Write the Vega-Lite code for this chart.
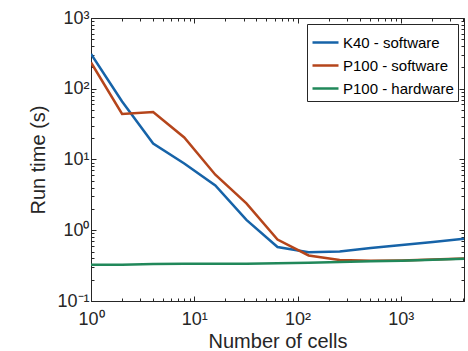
{
  "$schema": "https://vega.github.io/schema/vega-lite/v6.json",
  "width": 373,
  "height": 283,
  "autosize": {"type": "none"},
  "padding": {"left": 91, "top": 18, "right": 4, "bottom": 50},
  "background": "white",
  "config": {
    "font": "Liberation Sans",
    "view": {"stroke": "#262626", "strokeWidth": 1},
    "axis": {"grid": false, "domainColor": "#262626", "tickColor": "#262626", "labelColor": "#262626", "titleColor": "#262626", "labelFont": "Liberation Sans", "titleFont": "Liberation Sans", "titleFontWeight": "normal", "labelOverlap": false, "labelFlush": false}
  },
  "data": {
    "values": [
      {"series": "K40 - software", "cells": 1, "time": 310},
      {"series": "K40 - software", "cells": 2, "time": 66},
      {"series": "K40 - software", "cells": 4, "time": 16.8},
      {"series": "K40 - software", "cells": 8, "time": 8.8},
      {"series": "K40 - software", "cells": 16, "time": 4.3},
      {"series": "K40 - software", "cells": 32, "time": 1.4},
      {"series": "K40 - software", "cells": 64, "time": 0.58},
      {"series": "K40 - software", "cells": 128, "time": 0.49},
      {"series": "K40 - software", "cells": 256, "time": 0.5},
      {"series": "K40 - software", "cells": 512, "time": 0.56},
      {"series": "K40 - software", "cells": 1024, "time": 0.62},
      {"series": "K40 - software", "cells": 2048, "time": 0.68},
      {"series": "K40 - software", "cells": 4096, "time": 0.76},
      {"series": "P100 - software", "cells": 1, "time": 235},
      {"series": "P100 - software", "cells": 2, "time": 44},
      {"series": "P100 - software", "cells": 4, "time": 47},
      {"series": "P100 - software", "cells": 8, "time": 20.5},
      {"series": "P100 - software", "cells": 16, "time": 6.1},
      {"series": "P100 - software", "cells": 32, "time": 2.4},
      {"series": "P100 - software", "cells": 64, "time": 0.74},
      {"series": "P100 - software", "cells": 128, "time": 0.44},
      {"series": "P100 - software", "cells": 256, "time": 0.38},
      {"series": "P100 - software", "cells": 512, "time": 0.37},
      {"series": "P100 - software", "cells": 1024, "time": 0.375},
      {"series": "P100 - software", "cells": 2048, "time": 0.385},
      {"series": "P100 - software", "cells": 4096, "time": 0.4},
      {"series": "P100 - hardware", "cells": 1, "time": 0.325},
      {"series": "P100 - hardware", "cells": 2, "time": 0.326},
      {"series": "P100 - hardware", "cells": 4, "time": 0.334},
      {"series": "P100 - hardware", "cells": 8, "time": 0.335},
      {"series": "P100 - hardware", "cells": 16, "time": 0.336},
      {"series": "P100 - hardware", "cells": 32, "time": 0.337},
      {"series": "P100 - hardware", "cells": 64, "time": 0.342},
      {"series": "P100 - hardware", "cells": 128, "time": 0.346},
      {"series": "P100 - hardware", "cells": 256, "time": 0.356},
      {"series": "P100 - hardware", "cells": 512, "time": 0.364},
      {"series": "P100 - hardware", "cells": 1024, "time": 0.372},
      {"series": "P100 - hardware", "cells": 2048, "time": 0.382},
      {"series": "P100 - hardware", "cells": 4096, "time": 0.395}
    ]
  },
  "layer": [
    {
      "mark": {"type": "line", "strokeWidth": 2.5, "clip": true},
      "encoding": {
        "x": {
          "field": "cells", "type": "quantitative",
          "scale": {"type": "log", "domain": [1, 4096], "nice": false},
          "axis": {
            "orient": "bottom",
            "title": "Number of cells",
            "titleFontSize": 20,
            "titlePadding": 1,
            "labelFontSize": 18,
            "labelPadding": 14,
            "values": [1,2,3,4,5,6,7,8,9,10,20,30,40,50,60,70,80,90,100,200,300,400,500,600,700,800,900,1000,2000,3000,4000],
            "labelExpr": "datum.value == 1 ? '10⁰' : datum.value == 10 ? '10¹' : datum.value == 100 ? '10²' : datum.value == 1000 ? '10³' : ''",
            "tickSize": {"condition": {"test": "indexof([1,10,100,1000], datum.value) >= 0", "value": -5}, "value": -3}
          }
        },
        "y": {
          "field": "time", "type": "quantitative",
          "scale": {"type": "log", "domain": [0.1, 1000], "nice": false},
          "axis": {
            "orient": "left",
            "title": "Run time (s)",
            "titleFontSize": 20,
            "titlePadding": 8,
            "labelFontSize": 18,
            "labelPadding": 7,
            "values": [0.1,0.2,0.3,0.4,0.5,0.6,0.7,0.8,0.9,1,2,3,4,5,6,7,8,9,10,20,30,40,50,60,70,80,90,100,200,300,400,500,600,700,800,900,1000],
            "labelExpr": "datum.value == 0.1 ? '10⁻¹' : datum.value == 1 ? '10⁰' : datum.value == 10 ? '10¹' : datum.value == 100 ? '10²' : datum.value == 1000 ? '10³' : ''",
            "tickSize": {"condition": {"test": "indexof([0.1,1,10,100,1000], datum.value) >= 0", "value": -5}, "value": -3}
          }
        },
        "color": {
          "field": "series", "type": "nominal",
          "scale": {"domain": ["K40 - software", "P100 - software", "P100 - hardware"], "range": ["#1663a8", "#b5451b", "#21885a"]},
          "legend": {
            "title": null,
            "orient": "top-right",
            "offset": 6,
            "padding": 4,
            "strokeColor": "#262626",
            "fillColor": "white",
            "symbolType": "stroke",
            "symbolSize": 676,
            "symbolStrokeWidth": 2.5,
            "labelFontSize": 15,
            "labelColor": "#000000",
            "labelOffset": 3,
            "rowPadding": -8
          }
        }
      }
    },
    {
      "mark": {"type": "line", "strokeOpacity": 0},
      "encoding": {
        "detail": {"field": "series"},
        "x": {
          "field": "cells", "type": "quantitative",
          "axis": {
            "orient": "top", "title": null, "labels": false, "domain": false,
            "values": [1,2,3,4,5,6,7,8,9,10,20,30,40,50,60,70,80,90,100,200,300,400,500,600,700,800,900,1000,2000,3000,4000],
            "tickSize": {"condition": {"test": "indexof([1,10,100,1000], datum.value) >= 0", "value": -5}, "value": -3}
          }
        },
        "y": {
          "field": "time", "type": "quantitative",
          "axis": {
            "orient": "right", "title": null, "labels": false, "domain": false,
            "values": [0.1,0.2,0.3,0.4,0.5,0.6,0.7,0.8,0.9,1,2,3,4,5,6,7,8,9,10,20,30,40,50,60,70,80,90,100,200,300,400,500,600,700,800,900,1000],
            "tickSize": {"condition": {"test": "indexof([0.1,1,10,100,1000], datum.value) >= 0", "value": -5}, "value": -3}
          }
        }
      }
    }
  ],
  "resolve": {"axis": {"x": "independent", "y": "independent"}}
}
